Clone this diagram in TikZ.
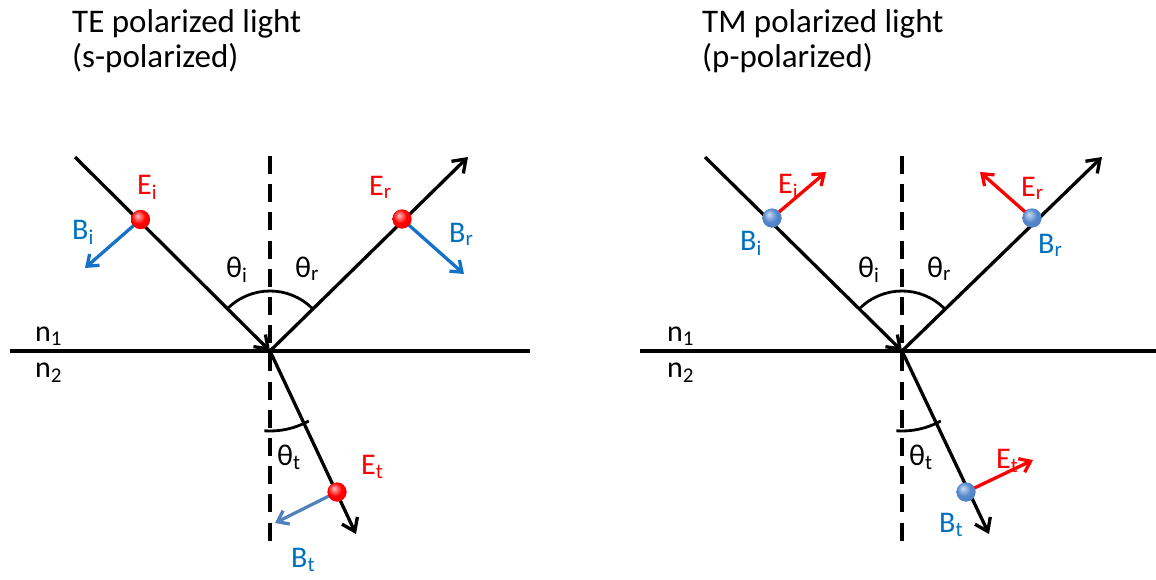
\documentclass[tikz,border=0pt]{standalone}
\usepackage{fontspec}
\setmainfont{Carlito}
\usetikzlibrary{arrows.meta,calc}
\definecolor{ered}{RGB}{255,0,0}
\definecolor{bblue}{RGB}{0,112,192}
\definecolor{barrow}{RGB}{20,115,200}
\definecolor{bsteel}{RGB}{79,129,189}
\definecolor{bball}{RGB}{84,135,205}
\pgfdeclareradialshading{redball}{\pgfpoint{-8bp}{10bp}}{color(0bp)=(red!25!white); color(18bp)=(red); color(40bp)=(red!95!black); color(60bp)=(red!80!black)}
\pgfdeclareradialshading{blueball}{\pgfpoint{-8bp}{10bp}}{color(0bp)=(bball!30!white); color(18bp)=(bball); color(40bp)=(bball!90!black); color(60bp)=(bball!70!black)}
\tikzset{
  ray/.style={line width=3.3pt, black},
  rayarrow/.style={ray, -{Straight Barb[length=12pt,width=17pt,line width=3.3pt]}},
  normal/.style={line width=3.3pt, dash pattern=on 18pt off 10.2pt},
  surface/.style={line width=3.3pt},
  anglearc/.style={line width=2.8pt},
  field/.style={line width=3.3pt, -{Straight Barb[length=10pt,width=15pt,line width=3.3pt]}},
  reddot/.style={circle, inner sep=0pt, minimum size=19pt, shading=redball},
  bluedot/.style={circle, inner sep=0pt, minimum size=19pt, shading=blueball},
  lab/.style={font=\fontsize{30}{34}\selectfont, inner sep=0pt, anchor=base west},
  elab/.style={lab, text=ered},
  blab/.style={lab, text=bblue},
  klab/.style={lab, text=black},
  title/.style={font=\fontsize{33}{35}\selectfont, align=left, anchor=base west, inner sep=0pt},
}
\begin{document}
\begin{tikzpicture}[x=1pt,y=-1pt]
\useasboundingbox (0,0) rectangle (1156,579);
% ---------- Left: TE ----------
\node[title] (t1) at (72,67) {TE polarized light\\(s-polarized)};
\coordinate (O) at (270,351);
\coordinate (I) at (75,157);
\coordinate (R) at (468,157);
\coordinate (T) at (356,534);
\coordinate (SL) at (10,351);
\coordinate (SR) at (530,351);
\coordinate (NT) at (270,156);
\coordinate (NB) at (270,541);
\draw[surface] (SL) -- (SR);
\draw[normal] (NT) -- (NB);
\draw[rayarrow] (I) -- (O);
\draw[rayarrow] (O) -- (R);
\draw[rayarrow] (O) -- (T);
\draw[anglearc] ($(O)+(225:60)$) arc[start angle=225,end angle=315,radius=60];
\draw[anglearc] ($(O)+(94:80)$) arc[start angle=94,end angle=61,radius=80];
\coordinate (BiE) at (85,268);
\coordinate (BrE) at (464,274);
\coordinate (BtE) at (275,523);
\node[reddot] (Ei) at (140.5,219.5) {};
\node[reddot] (Er) at (402,219) {};
\node[reddot] (Et) at (337,492) {};
\draw[field, barrow] (Ei.center) -- (BiE);
\draw[field, barrow] (Er.center) -- (BrE);
\draw[field, bsteel] (Et.center) -- (BtE);
\node[reddot] at (Ei) {};
\node[reddot] at (Er) {};
\node[reddot] at (Et) {};
\node[elab] (lEi) at (137,194) {E\textsubscript{i}};
\node[blab] (lBi) at (72,239) {B\textsubscript{i}};
\node[elab] (lEr) at (369,195) {E\textsubscript{r}};
\node[blab] (lBr) at (449,242) {B\textsubscript{r}};
\node[elab] (lEt) at (361,474) {E\textsubscript{t}};
\node[blab] (lBt) at (291,567) {B\textsubscript{t}};
\node[klab] (thi) at (226,277) {θ\textsubscript{i}};
\node[klab] (thr) at (295,277) {θ\textsubscript{r}};
\node[klab] (tht) at (277,465) {θ\textsubscript{t}};
\node[klab] (n1) at (35,341) {n\textsubscript{1}};
\node[klab] (n2) at (35,377) {n\textsubscript{2}};
% ---------- Right: TM ----------
\node[title] (t2) at (702,67) {TM polarized light\\(p-polarized)};
\coordinate (O2) at (902,351);
\coordinate (I2) at (705,157);
\coordinate (R2) at (1102,157);
\coordinate (T2) at (989,534);
\coordinate (SL2) at (640,351);
\coordinate (SR2) at (1156,351);
\coordinate (NT2) at (902,156);
\coordinate (NB2) at (902,541);
\draw[surface] (SL2) -- (SR2);
\draw[normal] (NT2) -- (NB2);
\draw[rayarrow] (I2) -- (O2);
\draw[rayarrow] (O2) -- (R2);
\draw[rayarrow] (O2) -- (T2);
\draw[anglearc] ($(O2)+(225:60)$) arc[start angle=225,end angle=315,radius=60];
\draw[anglearc] ($(O2)+(94:80)$) arc[start angle=94,end angle=61,radius=80];
\coordinate (EiE) at (826,172);
\coordinate (ErE) at (980,172);
\coordinate (EtE) at (1033,460);
\node[bluedot] (Bi) at (772,218) {};
\node[bluedot] (Br) at (1032,218) {};
\node[bluedot] (Bt) at (966,492) {};
\draw[field, ered] (Bi.center) -- (EiE);
\draw[field, ered] (Br.center) -- (ErE);
\draw[field, ered] (Bt.center) -- (EtE);
\node[bluedot] at (Bi) {};
\node[bluedot] at (Br) {};
\node[bluedot] at (Bt) {};
\node[elab] (rEi) at (778,193) {E\textsubscript{i}};
\node[blab] (rBi) at (740,250) {B\textsubscript{i}};
\node[elab] (rEr) at (1021,196) {E\textsubscript{r}};
\node[blab] (rBr) at (1038,253) {B\textsubscript{r}};
\node[elab] (rEt) at (996,468) {E\textsubscript{t}};
\node[blab] (rBt) at (939,532) {B\textsubscript{t}};
\node[klab] (rthi) at (858,277) {θ\textsubscript{i}};
\node[klab] (rthr) at (927,277) {θ\textsubscript{r}};
\node[klab] (rtht) at (909,465) {θ\textsubscript{t}};
\node[klab] (rn1) at (667,341) {n\textsubscript{1}};
\node[klab] (rn2) at (667,377) {n\textsubscript{2}};
\end{tikzpicture}
\end{document}
